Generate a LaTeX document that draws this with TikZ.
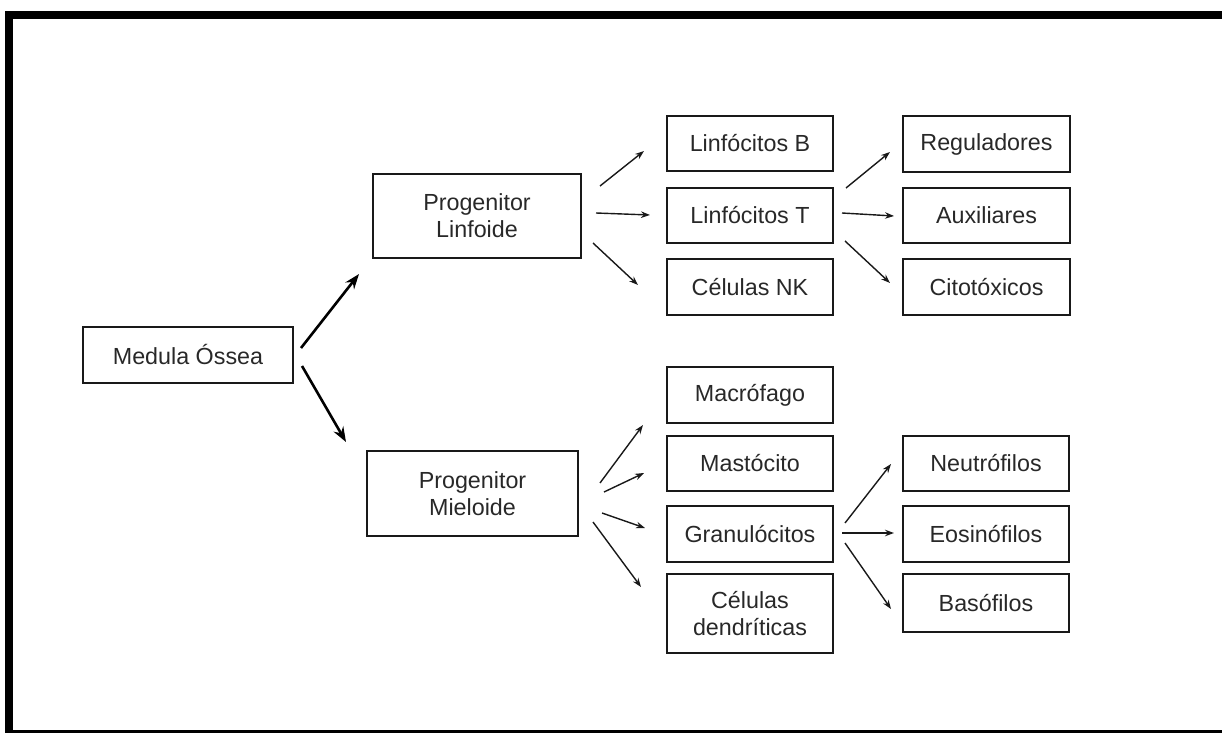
\documentclass[tikz,border=0pt]{standalone}
\usepackage{fontspec}
\setmainfont{Liberation Sans}
\usetikzlibrary{arrows.meta}
\definecolor{txt}{RGB}{40,40,40}
\definecolor{ln}{RGB}{25,25,25}
\begin{document}
\begin{tikzpicture}[x=1pt,y=-1pt,
  cell/.style={draw=ln, line width=2pt, inner sep=0pt, align=center, text=txt,
    font=\fontsize{23.3}{27}\selectfont, minimum width=166pt, minimum height=55pt},
  thin arr/.style={draw=ln, line width=1.4pt, -{Stealth[length=9pt,width=6.5pt]}},
  thick arr/.style={draw=black, line width=2.6pt, -{Stealth[length=15pt,width=11pt]}}]
\useasboundingbox (0,0) rectangle (1222,733);
% frame
\fill[black] (5,11) rectangle (1222,19);
\fill[black] (5,11) rectangle (13,733);
\fill[black] (5,730) rectangle (1222,733);
% nodes
\node[cell, minimum width=210pt, minimum height=56pt] (mo) at (188,355) {Medula Óssea};
\node[cell, minimum width=208pt, minimum height=84pt] (pl) at (477,216) {Progenitor\\Linfoide};
\node[cell, minimum width=211pt, minimum height=85pt] (pm) at (472.5,493.5) {Progenitor\\Mieloide};
\node[cell] (lb) at (750,143.5) {Linfócitos B};
\node[cell] (lt) at (750,215.5) {Linfócitos T};
\node[cell, minimum height=56pt] (nk) at (750,287) {Células NK};
\node[cell, minimum width=167pt, minimum height=56pt] (reg) at (986.5,144) {Reguladores};
\node[cell, minimum width=167pt] (aux) at (986.5,215.5) {Auxiliares};
\node[cell, minimum width=167pt, minimum height=56pt] (cit) at (986.5,287) {Citotóxicos};
\node[cell, minimum height=56pt] (mac) at (750,395) {Macrófago};
\node[cell] (mas) at (750,463.5) {Mastócito};
\node[cell, minimum height=56pt] (gra) at (750,534) {Granulócitos};
\node[cell, minimum height=79pt] (den) at (750,613.5) {Células\\dendríticas};
\node[cell] (neu) at (986,463.5) {Neutrófilos};
\node[cell, minimum height=56pt] (eos) at (986,534) {Eosinófilos};
\node[cell, minimum height=58pt] (bas) at (986,603) {Basófilos};
% arrows
\draw[thick arr] ([shift={(7,-7)}]mo.east) -- ([shift={(-13,15)}]pl.south west);
\draw[thick arr] ([shift={(8,11)}]mo.east) -- ([shift={(-20,-8)}]pm.north west);
\draw[thin arr] ([shift={(18,-30)}]pl.east) -- ([shift={(-22,7.5)}]lb.west);
\draw[thin arr] ([shift={(14,-3)}]pl.east) -- ([shift={(-16,-0.5)}]lt.west);
\draw[thin arr] ([shift={(11,27)}]pl.east) -- ([shift={(-28,-2)}]nk.west);
\draw[thin arr] ([shift={(12,-27.5)}]lt.east) -- ([shift={(-12,8)}]reg.west);
\draw[thin arr] ([shift={(8,-2.5)}]lt.east) -- ([shift={(-8,0.5)}]aux.west);
\draw[thin arr] ([shift={(11,25.5)}]lt.east) -- ([shift={(-12,-4)}]cit.west);
\draw[thin arr] ([shift={(21,-10.5)}]pm.east) -- ([shift={(-23,30)}]mac.west);
\draw[thin arr] ([shift={(25,-1.5)}]pm.east) -- ([shift={(-22,9.5)}]mas.west);
\draw[thin arr] ([shift={(23,19.5)}]pm.east) -- ([shift={(-21,-6)}]gra.west);
\draw[thin arr] ([shift={(14,28.5)}]pm.east) -- ([shift={(-25,-26.5)}]den.west);
\draw[thin arr] ([shift={(11,-11)}]gra.east) -- ([shift={(-11,0.5)}]neu.west);
\draw[thin arr] ([shift={(8,-1)}]gra.east) -- ([shift={(-8,-1)}]eos.west);
\draw[thin arr] ([shift={(11,9)}]gra.east) -- ([shift={(-11,6)}]bas.west);
\end{tikzpicture}
\end{document}
